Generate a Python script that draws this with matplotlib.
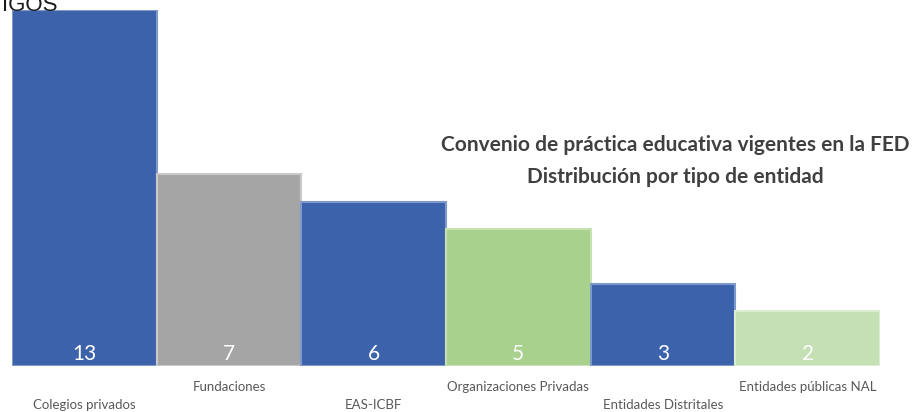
import matplotlib.pyplot as plt

categorias = ['Colegios privados', 'Fundaciones', 'EAS-ICBF',
              'Organizaciones Privadas', 'Entidades Distritales',
              'Entidades públicas NAL']
convenios = [13, 7, 6, 5, 3, 2]
colores = ['#3C62AB', '#A5A5A5', '#3C62AB', '#A9D18E', '#3C62AB', '#C5E0B4']
bordes = ['#7E9ACC', '#C9C9C9', '#7E9ACC', '#C6E2B2', '#7E9ACC', '#DDEDD2']

plt.rcParams['font.family'] = ['Lato', 'DejaVu Sans']

fig = plt.figure(figsize=(9.21, 4.12), dpi=100)
ax = fig.add_axes([12/921, 46/412, 868/921, 356/412])

x = range(len(convenios))
ax.bar(x, convenios, width=1.0, color=colores, edgecolor=bordes, linewidth=1.5)
ax.set_xlim(-0.5, len(convenios) - 0.5)
ax.set_ylim(0, 13)
ax.axis('off')

for i, v in enumerate(convenios):
    ax.annotate(str(v), xy=(i, 0), xytext=(0, 8.6), textcoords='offset points',
                ha='center', va='center', color='white', fontsize=15)
    off = -15 if i % 2 == 1 else -28
    ax.annotate(categorias[i], xy=(i, 0), xytext=(0, off), textcoords='offset points',
                ha='center', va='center', color='#595959', fontsize=9.5,
                annotation_clip=False)

fig.text(675/921, 1 - 145/412, 'Convenio de práctica educativa vigentes en la FED',
         ha='center', va='center', fontsize=15, fontweight='bold', color='#404040')
fig.text(675/921, 1 - 177/412, 'Distribución por tipo de entidad',
         ha='center', va='center', fontsize=15, fontweight='bold', color='#404040')

# titulo cortado arriba a la izquierda
fig.text(2/921, 1 - 11/412, 'IGOS', ha='left', va='baseline', fontsize=16,
         color='#1a1a1a', family='Liberation Sans')

fig.savefig('out.png', dpi=100)
